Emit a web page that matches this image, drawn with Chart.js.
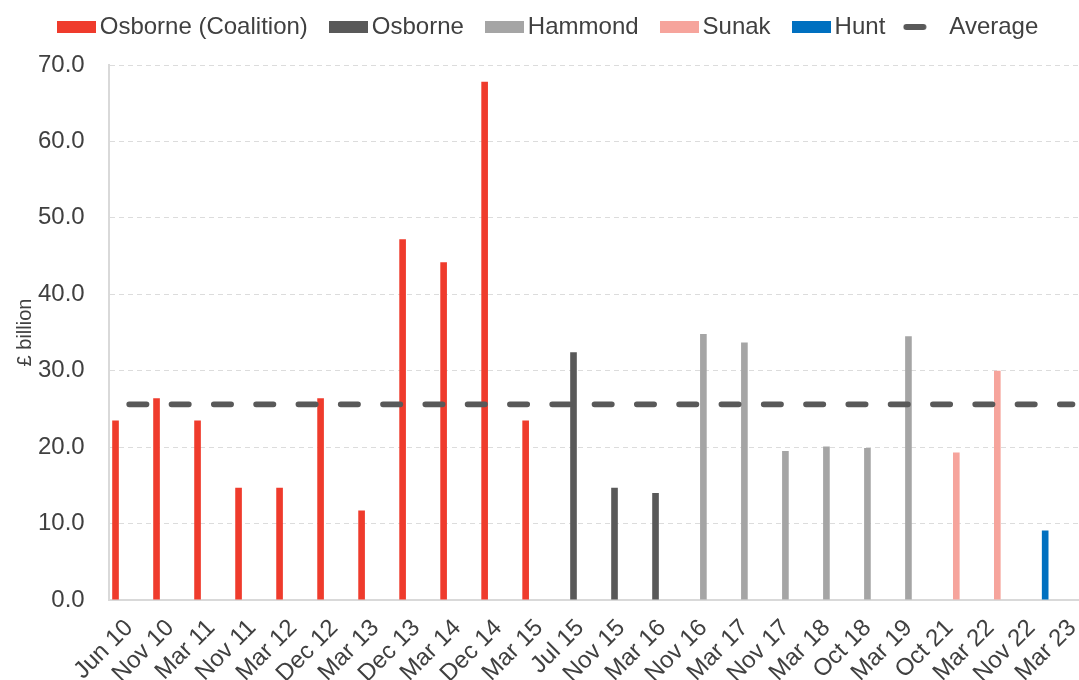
<!DOCTYPE html>
<html>
<head>
<meta charset="utf-8">
<script src="https://cdn.jsdelivr.net/npm/chart.js@4.4.0/dist/chart.umd.min.js"></script>
<style>
  html, body { margin: 0; padding: 0; background: #fff; overflow: hidden; }
  #wrap { width: 1100px; height: 680px; }
</style>
</head>
<body>
<div id="wrap"><canvas id="chart" width="1100" height="680"></canvas></div>
<script>
// fiscal events
const categories = ['Jun 10', 'Nov 10', 'Mar 11', 'Nov 11', 'Mar 12', 'Dec 12', 'Mar 13', 'Dec 13',
  'Mar 14', 'Dec 14', 'Mar 15', 'Jul 15', 'Nov 15', 'Mar 16', 'Nov 16', 'Mar 17', 'Nov 17',
  'Mar 18', 'Oct 18', 'Mar 19', 'Oct 21', 'Mar 22', 'Nov 22', 'Mar 23'];

// £ billion per event, one array per chancellor
const osborneCoalition = [23.5, 26.4, 23.5, 14.7, 14.7, 26.4, 11.7, 47.2, 44.2, 67.8, 23.5,
  null, null, null, null, null, null, null, null, null, null, null, null, null];
const osborne = [null, null, null, null, null, null, null, null, null, null, null,
  32.4, 14.7, 14.0, null, null, null, null, null, null, null, null, null, null];
const hammond = [null, null, null, null, null, null, null, null, null, null, null,
  null, null, null, 34.8, 33.7, 19.5, 20.1, 19.9, 34.5, null, null, null, null];
const sunak = [null, null, null, null, null, null, null, null, null, null, null,
  null, null, null, null, null, null, null, null, null, 19.3, 30.0, null, null];
const hunt = [null, null, null, null, null, null, null, null, null, null, null,
  null, null, null, null, null, null, null, null, null, null, null, 9.1, null];
const average = [25.6, 25.6, 25.6, 25.6, 25.6, 25.6, 25.6, 25.6, 25.6, 25.6, 25.6, 25.6,
  25.6, 25.6, 25.6, 25.6, 25.6, 25.6, 25.6, 25.6, 25.6, 25.6, 25.6, 25.6];

const yTicks = [0, 10, 20, 30, 40, 50, 60, 70];

const textColor = '#404040';
const fontFamily = '"Liberation Sans", Arial, sans-serif';
const yTickPadding = 24;

function barSet(label, data, color) {
  return {
    label: label,
    data: data,
    backgroundColor: color,
    borderWidth: 0,
    barPercentage: 0.97,
    categoryPercentage: 0.835
  };
}

// legend swatches as small canvases, so the gap to the text can be tighter
function boxSwatch(color) {
  const c = document.createElement('canvas');
  c.width = 39; c.height = 12;
  const g = c.getContext('2d');
  g.fillStyle = color;
  g.fillRect(0, 0, 39, 12);
  return c;
}
function dashSwatch(color) {
  const c = document.createElement('canvas');
  c.width = 46; c.height = 8;
  const g = c.getContext('2d');
  g.strokeStyle = color;
  g.lineWidth = 6;
  g.lineCap = 'round';
  g.beginPath();
  g.moveTo(3.5, 4);
  g.lineTo(20.5, 4);
  g.stroke();
  return c;
}

// a bit of room between legend and plot
const legendMargin = {
  id: 'legendMargin',
  beforeInit(chart) {
    const fit = chart.legend.fit;
    chart.legend.fit = function () {
      fit.bind(chart.legend)();
      this.height += 16;
    };
  }
};

const ctx = document.getElementById('chart').getContext('2d');
new Chart(ctx, {
  type: 'bar',
  data: {
    labels: categories,
    datasets: [
      barSet('Osborne (Coalition)', osborneCoalition, '#EF3B2C'),
      barSet('Osborne', osborne, '#595959'),
      barSet('Hammond', hammond, '#A5A5A5'),
      barSet('Sunak', sunak, '#F6A49C'),
      barSet('Hunt', hunt, '#0070C0'),
      {
        type: 'line',
        label: 'Average',
        data: average,
        borderColor: '#595959',
        borderWidth: 5.7,
        borderDash: [17.3, 25],
        borderCapStyle: 'round',
        pointRadius: 0,
        fill: false,
        order: -1
      }
    ]
  },
  plugins: [legendMargin],
  options: {
    responsive: false,
    animation: false,
    layout: { padding: { left: 10, right: 7, top: -14, bottom: 0 } },
    plugins: {
      tooltip: { enabled: false },
      legend: {
        position: 'top',
        labels: {
          color: textColor,
          font: { family: fontFamily, size: 24 },
          usePointStyle: true,
          pointStyleWidth: 23,
          boxHeight: 12,
          padding: 29,
          sort: (a, b) => a.datasetIndex - b.datasetIndex,
          generateLabels: (chart) => {
            const items = Chart.defaults.plugins.legend.labels.generateLabels(chart);
            items.forEach(item => {
              const ds = chart.data.datasets[item.datasetIndex];
              item.lineWidth = 0;
              item.pointStyle = ds.type === 'line'
                ? dashSwatch(ds.borderColor)
                : boxSwatch(ds.backgroundColor);
            });
            return items;
          }
        }
      }
    },
    scales: {
      x: {
        grid: { display: false },
        border: { display: true, color: '#d9d9d9', width: 2 },
        ticks: {
          color: textColor,
          font: { family: fontFamily, size: 24 },
          autoSkip: false,
          minRotation: 45,
          maxRotation: 45,
          padding: 6
        },
        afterFit: (axis) => {
          axis.paddingLeft = 0;
          axis.paddingRight = 0;
          axis.height = 80;
        }
      },
      y: {
        min: 0,
        max: 70,
        afterBuildTicks: (axis) => { axis.ticks = yTicks.map(v => ({ value: v })); },
        // chart.js counts the tick padding twice when sizing the axis
        afterFit: (axis) => { axis.width -= yTickPadding; },
        grid: { color: '#dcdcdc', lineWidth: 1, drawTicks: false },
        border: { display: true, color: '#d9d9d9', width: 2, dash: [5, 4] },
        ticks: {
          color: textColor,
          font: { family: fontFamily, size: 24 },
          padding: yTickPadding,
          callback: (v) => Number(v).toFixed(1)
        },
        title: {
          display: true,
          text: '£ billion',
          color: textColor,
          font: { family: fontFamily, size: 20 },
          padding: { top: 3, bottom: 1 }
        }
      }
    }
  }
});
</script>
</body>
</html>
